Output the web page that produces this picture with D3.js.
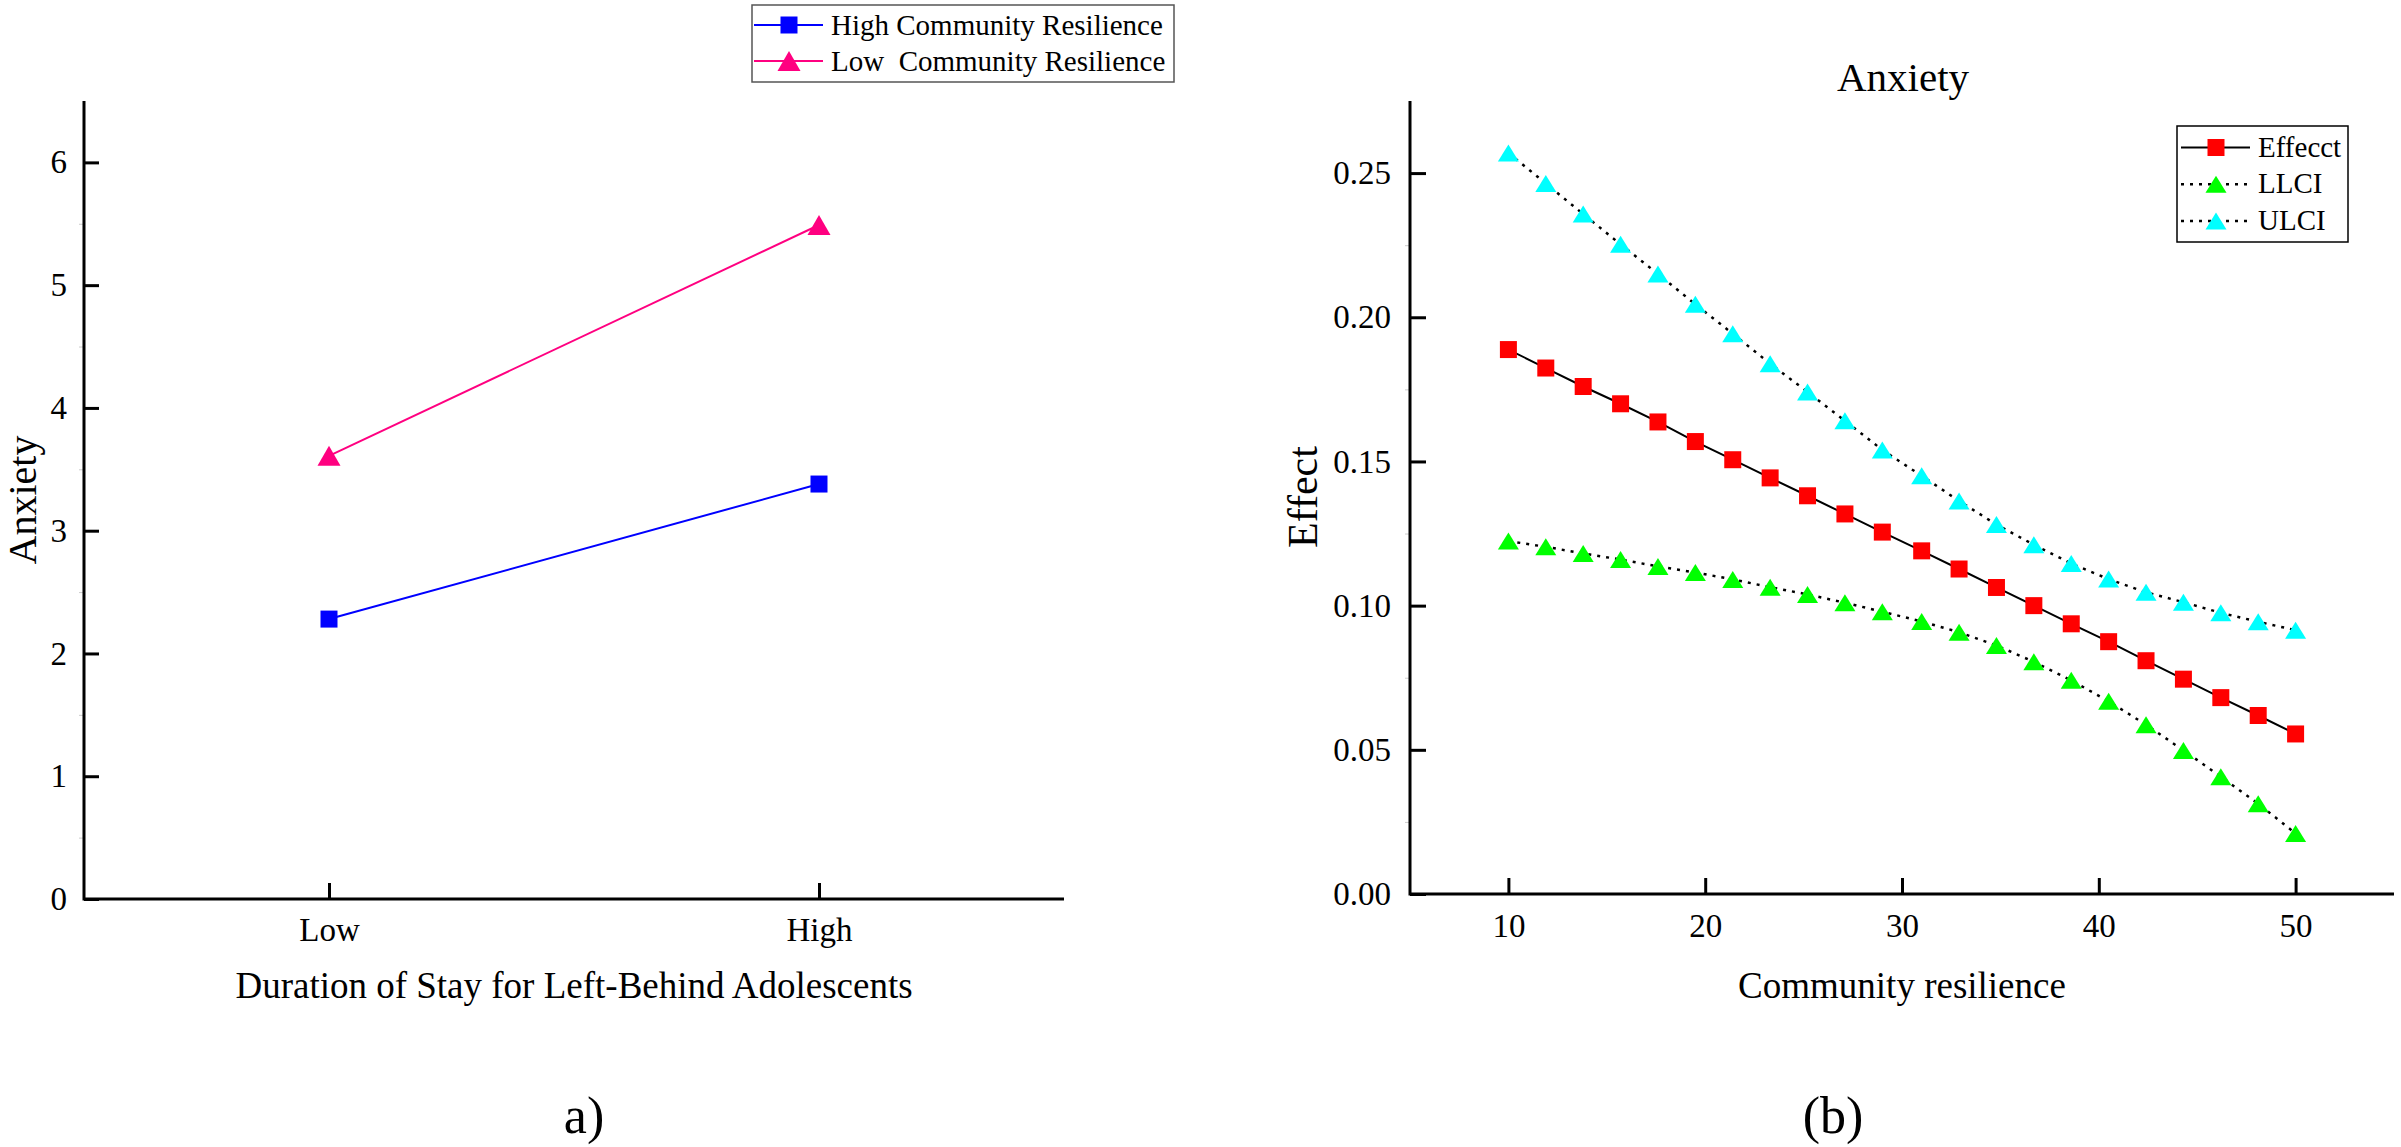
<!DOCTYPE html>
<html>
<head>
<meta charset="utf-8">
<script src="https://cdn.jsdelivr.net/npm/d3@7"></script>
<style>
  html, body { margin: 0; padding: 0; background: #fff; }
  text { font-family: "Liberation Serif", "Times New Roman", serif; fill: #000; }
</style>
</head>
<body>
<div id="chart"></div>
<script>
// ---- panel a) data ----
const durationLevels = ['Low', 'High'];
const highResilience = [2.28, 3.38];
const lowResilience = [3.61, 5.49];
const leftTicks = [0, 1, 2, 3, 4, 5, 6];

// ---- panel (b) data ----
const resilience = [10, 11.9, 13.8, 15.7, 17.6, 19.5, 21.4, 23.3, 25.2, 27.1, 29.0,
                    31.0, 32.9, 34.8, 36.7, 38.6, 40.5, 42.4, 44.3, 46.2, 48.1, 50];
const effect = [0.1888, 0.1824, 0.1760, 0.1700, 0.1637, 0.1569, 0.1506, 0.1443, 0.1381, 0.1318, 0.1255,
                0.1190, 0.1127, 0.1063, 0.1000, 0.0937, 0.0875, 0.0809, 0.0745, 0.0681, 0.0619, 0.0555];
const llci = [0.1224, 0.1204, 0.1181, 0.1160, 0.1136, 0.1115, 0.1091, 0.1064, 0.1039, 0.1010, 0.0979,
              0.0945, 0.0908, 0.0862, 0.0805, 0.0741, 0.0668, 0.0587, 0.0498, 0.0407, 0.0313, 0.0210];
const ulci = [0.2570, 0.2464, 0.2358, 0.2253, 0.2150, 0.2045, 0.1943, 0.1839, 0.1741, 0.1641, 0.1540,
              0.1450, 0.1363, 0.1281, 0.1211, 0.1146, 0.1092, 0.1046, 0.1012, 0.0975, 0.0944, 0.0915];
const rightXTicks = [10, 20, 30, 40, 50];
const rightYTicks = [0, 0.05, 0.10, 0.15, 0.20, 0.25];

const svg = d3.select('#chart')
    .append('svg')
    .attr('width', 2401)
    .attr('height', 1147);

const triangle = (w, h) => `M0,${-h / 2}L${w / 2},${h / 2}L${-w / 2},${h / 2}Z`;
const square = s => `M${-s / 2},${-s / 2}h${s}v${s}h${-s}Z`;

const styleAxis = (g, labelSize) => {
    g.attr('font-family', '"Liberation Serif", serif').attr('font-size', labelSize);
    g.select('.domain').remove();
    g.selectAll('.tick line').attr('stroke', '#000').attr('stroke-width', 3);
    g.selectAll('.tick text')
        .style('font-family', '"Liberation Serif", serif')
        .style('font-size', labelSize + 'px')
        .attr('fill', '#000');
};

const styleMinor = g => {
    g.select('.domain').remove();
    g.selectAll('line').attr('stroke', '#ccc').attr('stroke-width', 1);
};

// ================= panel a) =================
const xA = d3.scalePoint().domain(durationLevels).range([84, 1064]).padding(0.5);
const yA = d3.scaleLinear().domain([0, 6.5]).range([899, 101]);

svg.append('g')
    .attr('transform', 'translate(84,0)')
    .call(d3.axisLeft(yA).tickValues(d3.range(0.5, 6.5, 1)).tickSize(5).tickFormat(''))
    .call(styleMinor);

svg.append('g')
    .attr('transform', 'translate(84,0)')
    .call(d3.axisLeft(yA).tickValues(leftTicks).tickSize(-15).tickPadding(17).tickFormat(d3.format('d')))
    .call(g => styleAxis(g, 33));

svg.append('g')
    .attr('transform', 'translate(0,899)')
    .call(d3.axisBottom(xA).tickSize(-16).tickPadding(19))
    .call(g => styleAxis(g, 33));

svg.append('path')
    .attr('d', `M84,${yA(6.5)}V899H1064`)
    .attr('fill', 'none').attr('stroke', '#000').attr('stroke-width', 3);

const seriesA = [
    { name: 'High Community Resilience', values: highResilience, color: '#0000ff', shape: 'square' },
    { name: 'Low  Community Resilience', values: lowResilience, color: '#ff0080', shape: 'triangle' }
];

const lineA = d3.line().x((d, i) => xA(durationLevels[i])).y(d => yA(d));

seriesA.forEach(s => {
    svg.append('path')
        .attr('d', lineA(s.values))
        .attr('fill', 'none')
        .attr('stroke', s.color)
        .attr('stroke-width', 2);
    svg.selectAll(null)
        .data(s.values)
        .join('path')
        .attr('transform', (d, i) => `translate(${xA(durationLevels[i])},${yA(d)})`)
        .attr('d', s.shape === 'square' ? square(17) : triangle(23, 20))
        .attr('fill', s.color);
});

svg.append('text')
    .attr('transform', 'translate(36,500) rotate(-90)')
    .attr('text-anchor', 'middle')
    .style('font-size', '40px')
    .text('Anxiety');

svg.append('text')
    .attr('x', 574).attr('y', 998)
    .attr('text-anchor', 'middle')
    .style('font-size', '37px')
    .text('Duration of Stay for Left-Behind Adolescents');

svg.append('text')
    .attr('x', 584).attr('y', 1133)
    .attr('text-anchor', 'middle')
    .style('font-size', '52px')
    .text('a)');

// legend a)
const legA = svg.append('g');
legA.append('rect')
    .attr('x', 752).attr('y', 5).attr('width', 422).attr('height', 77)
    .attr('fill', 'none').attr('stroke', '#555').attr('stroke-width', 1.5);
seriesA.forEach((s, i) => {
    const cy = 25 + i * 36;
    legA.append('line')
        .attr('x1', 754).attr('x2', 823).attr('y1', cy).attr('y2', cy)
        .attr('stroke', s.color).attr('stroke-width', 2);
    legA.append('path')
        .attr('transform', `translate(789,${cy})`)
        .attr('d', s.shape === 'square' ? square(17) : triangle(23, 20))
        .attr('fill', s.color);
    legA.append('text')
        .attr('x', 831).attr('y', cy + 10)
        .style('font-size', '29px')
        .style('white-space', 'pre')
        .attr('xml:space', 'preserve')
        .text(s.name);
});

// ================= panel (b) =================
const xB = d3.scaleLinear().domain([5, 55]).range([1410, 2394]);
const yB = d3.scaleLinear().domain([0, 0.275]).range([894, 101]);

svg.append('g')
    .attr('transform', 'translate(1410,0)')
    .call(d3.axisLeft(yB).tickValues(d3.range(0.025, 0.275, 0.05)).tickSize(5).tickFormat(''))
    .call(styleMinor);

svg.append('g')
    .attr('transform', 'translate(1410,0)')
    .call(d3.axisLeft(yB).tickValues(rightYTicks).tickSize(-16).tickPadding(19).tickFormat(d3.format('.2f')))
    .call(g => styleAxis(g, 33));

svg.append('g')
    .attr('transform', 'translate(0,894)')
    .call(d3.axisBottom(xB).tickValues(rightXTicks).tickSize(-16).tickPadding(20).tickFormat(d3.format('d')))
    .call(g => styleAxis(g, 33));

svg.append('path')
    .attr('d', `M1410,${yB(0.275)}V894H2394`)
    .attr('fill', 'none').attr('stroke', '#000').attr('stroke-width', 3);

const seriesB = [
    { name: 'Effecct', values: effect, color: '#ff0000', shape: 'square', dash: null },
    { name: 'LLCI', values: llci, color: '#00ff00', shape: 'triangle', dash: '3,6' },
    { name: 'ULCI', values: ulci, color: '#00ffff', shape: 'triangle', dash: '3,6' }
];

const lineB = d3.line().x((d, i) => xB(resilience[i])).y(d => yB(d));

seriesB.forEach(s => {
    svg.append('path')
        .attr('d', lineB(s.values))
        .attr('fill', 'none')
        .attr('stroke', '#000')
        .attr('stroke-width', s.dash ? 2.5 : 2)
        .attr('stroke-dasharray', s.dash);
});
seriesB.forEach(s => {
    svg.selectAll(null)
        .data(s.values)
        .join('path')
        .attr('transform', (d, i) => `translate(${xB(resilience[i])},${yB(d)})`)
        .attr('d', s.shape === 'square' ? square(17) : triangle(21, 17))
        .attr('fill', s.color);
});

svg.append('text')
    .attr('x', 1903).attr('y', 91)
    .attr('text-anchor', 'middle')
    .style('font-size', '41px')
    .text('Anxiety');

svg.append('text')
    .attr('transform', 'translate(1317,497) rotate(-90)')
    .attr('text-anchor', 'middle')
    .style('font-size', '42px')
    .text('Effect');

svg.append('text')
    .attr('x', 1902).attr('y', 998)
    .attr('text-anchor', 'middle')
    .style('font-size', '37px')
    .text('Community resilience');

svg.append('text')
    .attr('x', 1833).attr('y', 1133)
    .attr('text-anchor', 'middle')
    .style('font-size', '52px')
    .text('(b)');

// legend (b)
const legB = svg.append('g');
legB.append('rect')
    .attr('x', 2177).attr('y', 126).attr('width', 171).attr('height', 116)
    .attr('fill', '#fff').attr('stroke', '#000').attr('stroke-width', 1.5);
seriesB.forEach((s, i) => {
    const cy = 147.5 + i * 36.7;
    legB.append('line')
        .attr('x1', 2181).attr('x2', 2250).attr('y1', cy).attr('y2', cy)
        .attr('stroke', '#000').attr('stroke-width', s.dash ? 2.5 : 2)
        .attr('stroke-dasharray', s.dash);
    legB.append('path')
        .attr('transform', `translate(2216,${cy})`)
        .attr('d', s.shape === 'square' ? square(17) : triangle(21, 17))
        .attr('fill', s.color);
    legB.append('text')
        .attr('x', 2258).attr('y', cy + 9)
        .style('font-size', '29px')
        .text(s.name);
});
</script>
</body>
</html>
